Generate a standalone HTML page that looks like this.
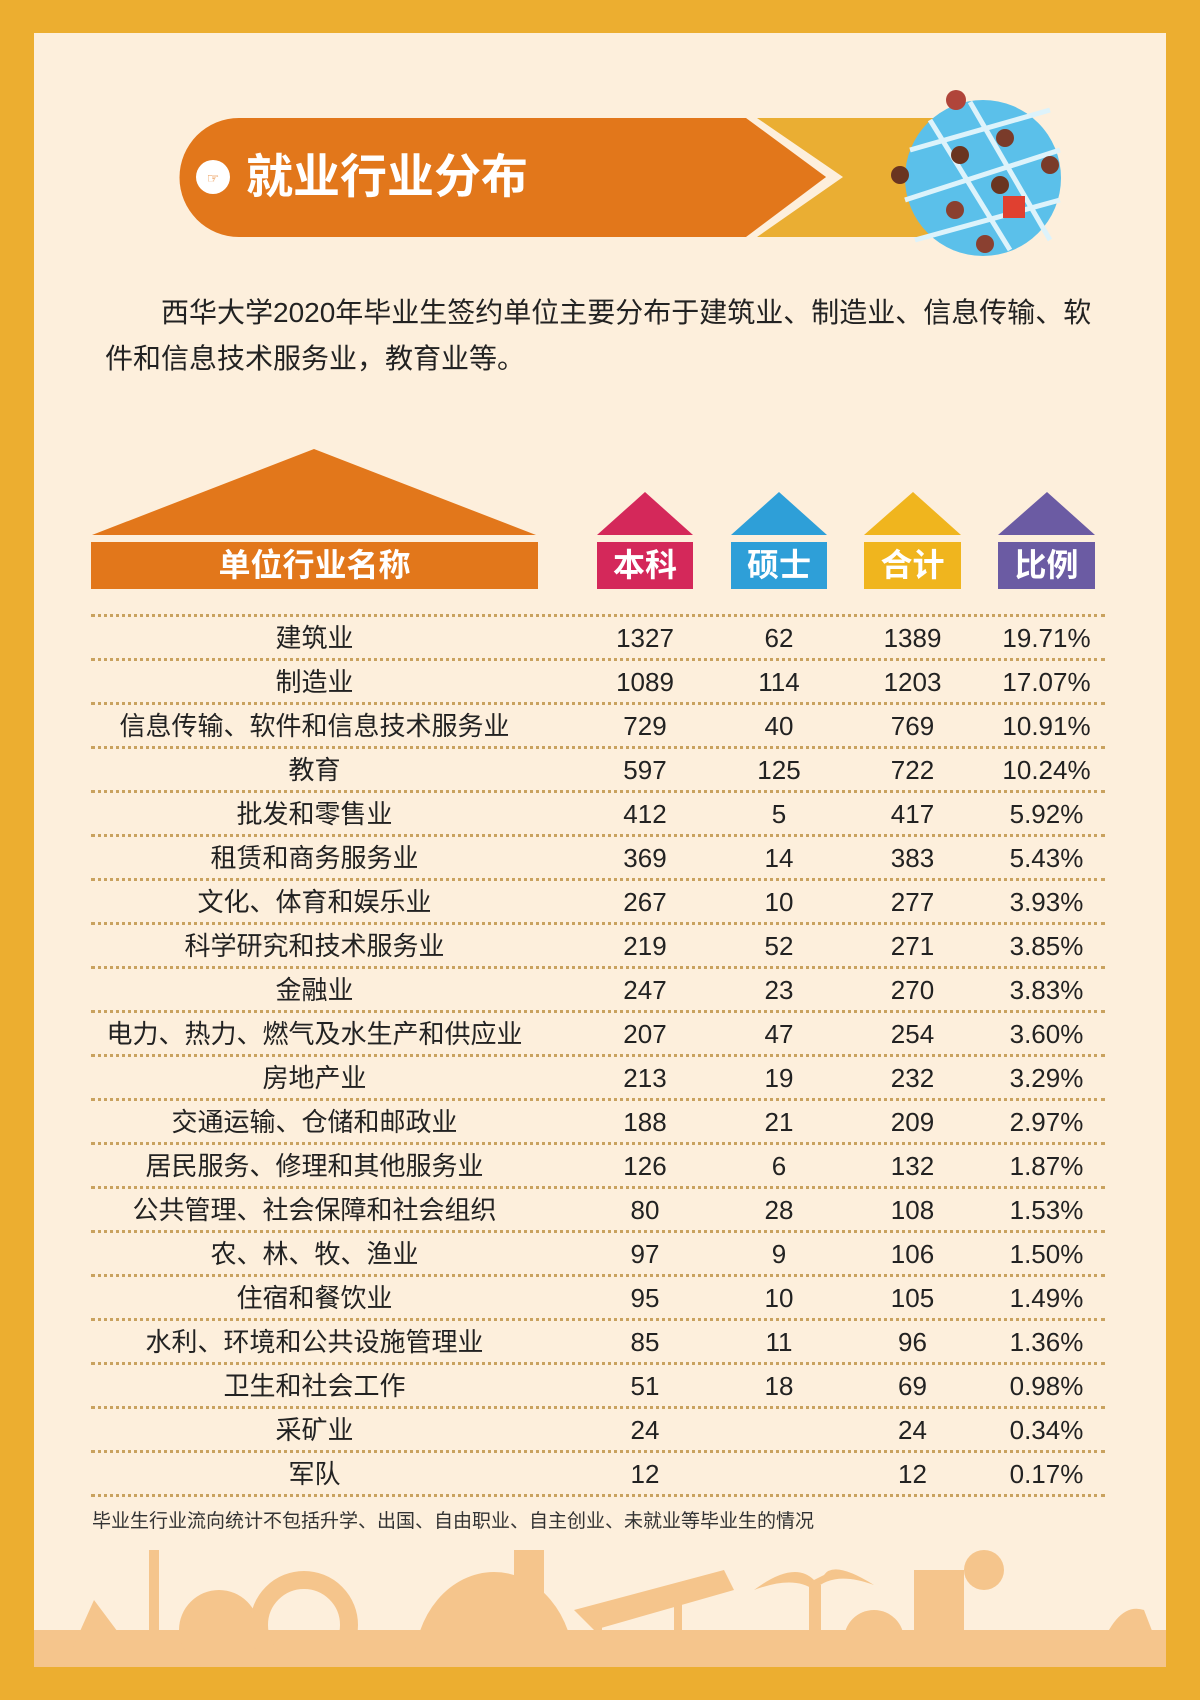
<!DOCTYPE html>
<html><head><meta charset="utf-8">
<style>
*{margin:0;padding:0;box-sizing:border-box}
body{width:1200px;height:1700px;background:#ECAE30;position:relative;overflow:hidden;font-family:"Liberation Sans","Noto Sans CJK SC",sans-serif}
#panel{position:absolute;left:34px;top:33px;width:1132px;height:1634px;background:#FDEFDC}
.abs{position:absolute}
.cell{position:absolute;text-align:center;font-size:26px;color:#222;line-height:44px;height:44px}
.dl{position:absolute;left:91px;width:1014px;height:0;border-top:3px dotted #C9A25F}
.hd{position:absolute;top:542px;height:47px;color:#fff;font-weight:bold;font-size:32px;line-height:47px;text-align:center}
</style></head><body>
<div id="panel"></div>
<svg class="abs" style="left:0;top:0" width="1200" height="700">
  <rect x="700" y="118" width="240" height="119" fill="#EAAE33"/>
  <polygon points="740,118 826,177 740,237 757,237 843,177 757,118" fill="#FDEFDC"/>
  <path d="M239,118 H746 L826,177 L746,237 H239 A59,59 0 0 1 239,118 Z" fill="#E2771B"/>
  <circle cx="213" cy="177" r="17" fill="#fff"/>
  <text x="213" y="183" font-size="14" text-anchor="middle" fill="#E2771B" font-family="Liberation Sans">☞</text>
  <g>
    <circle cx="983" cy="178" r="78" fill="#5BC0EA"/>
    <g stroke="#DDF3FB" stroke-width="5">
      <line x1="910" y1="150" x2="1050" y2="110"/><line x1="905" y1="200" x2="1060" y2="150"/><line x1="915" y1="240" x2="1060" y2="200"/>
      <line x1="930" y1="120" x2="1010" y2="250"/><line x1="970" y1="102" x2="1050" y2="240"/>
    </g>
    <circle cx="956" cy="100" r="10" fill="#B0453A"/><circle cx="1005" cy="138" r="9" fill="#7A3B2A"/><circle cx="960" cy="155" r="9" fill="#6A3520"/>
    <circle cx="1000" cy="185" r="9" fill="#6A3520"/><circle cx="955" cy="210" r="9" fill="#8A4030"/><circle cx="985" cy="244" r="9" fill="#8A4030"/>
    <circle cx="1050" cy="165" r="9" fill="#7A3B2A"/><circle cx="900" cy="175" r="9" fill="#6A3520"/>
    <rect x="1003" y="196" width="22" height="22" fill="#E04030"/>
  </g>
  <polygon points="314,449 536,535 92,535" fill="#E2771B"/>
  <rect x="91" y="542" width="447" height="47" fill="#E2771B"/>
  <polygon points="645,492 693,535 597,535" fill="#D4285A"/>
  <polygon points="779,492 827,535 731,535" fill="#2E9FD8"/>
  <polygon points="913,492 961,535 864,535" fill="#F0B51E"/>
  <polygon points="1047,492 1095,535 998,535" fill="#6B5BA3"/>
  <rect x="597" y="542" width="96" height="47" fill="#D4285A"/>
  <rect x="731" y="542" width="96" height="47" fill="#2E9FD8"/>
  <rect x="864" y="542" width="97" height="47" fill="#F0B51E"/>
  <rect x="998" y="542" width="97" height="47" fill="#6B5BA3"/>
</svg>
<div class="abs" style="left:246px;top:148px;font-size:47px;font-weight:bold;color:#fff;line-height:58px;white-space:nowrap">就业行业分布</div>
<div class="abs" style="left:105px;top:290px;width:1005px;font-size:28px;line-height:46px;color:#222;text-indent:56px">西华大学2020年毕业生签约单位主要分布于建筑业、制造业、信息传输、软<br>件和信息技术服务业，教育业等。</div>
<div class="hd" style="left:91px;width:447px">单位行业名称</div>
<div class="hd" style="left:597px;width:96px">本科</div>
<div class="hd" style="left:731px;width:96px">硕士</div>
<div class="hd" style="left:864px;width:97px">合计</div>
<div class="hd" style="left:998px;width:97px">比例</div>
<div id="tbl"></div>
<div class="abs" style="left:92px;top:1510px;font-size:19px;color:#333;line-height:24px">毕业生行业流向统计不包括升学、出国、自由职业、自主创业、未就业等毕业生的情况</div>
<svg class="abs" style="left:34px;top:1530px" width="1132" height="137">
  <g fill="#F5C58C">
    <rect x="0" y="100" width="1132" height="37"/>
    <path d="M30,137 L60,70 L110,137Z"/><rect x="115" y="20" width="10" height="117"/>
    <circle cx="185" cy="100" r="40"/><circle cx="270" cy="95" r="45" fill="none" stroke="#F5C58C" stroke-width="18"/>
    <path d="M380,137 A80,95 0 0 1 540,137Z"/><rect x="480" y="20" width="30" height="117"/>
    <path d="M540,80 L690,40 L700,60 L560,100Z"/><rect x="560" y="80" width="8" height="57"/><rect x="640" y="60" width="8" height="77"/>
    <path d="M780,50 Q760,30 720,60 Q760,45 780,60 Q800,40 840,55 Q800,30 790,45Z"/><rect x="775" y="55" width="12" height="82"/>
    <circle cx="840" cy="110" r="30"/><rect x="880" y="40" width="50" height="97"/><circle cx="950" cy="40" r="20"/>
    <path d="M1060,137 Q1080,70 1110,80 L1132,137Z"/>
  </g>
</svg>
<script>
const names=["建筑业","制造业","信息传输、软件和信息技术服务业","教育","批发和零售业","租赁和商务服务业","文化、体育和娱乐业","科学研究和技术服务业","金融业","电力、热力、燃气及水生产和供应业","房地产业","交通运输、仓储和邮政业","居民服务、修理和其他服务业","公共管理、社会保障和社会组织","农、林、牧、渔业","住宿和餐饮业","水利、环境和公共设施管理业","卫生和社会工作","采矿业","军队"];
const undergrad=[1327,1089,729,597,412,369,267,219,247,207,213,188,126,80,97,95,85,51,24,12];
const master=[62,114,40,125,5,14,10,52,23,47,19,21,6,28,9,10,11,18,null,null];
const total=[1389,1203,769,722,417,383,277,271,270,254,232,209,132,108,106,105,96,69,24,12];
const ratio=["19.71%","17.07%","10.91%","10.24%","5.92%","5.43%","3.93%","3.85%","3.83%","3.60%","3.29%","2.97%","1.87%","1.53%","1.50%","1.49%","1.36%","0.98%","0.34%","0.17%"];
const tbl=document.getElementById('tbl');
const top0=615,rowH=44;
const cols=[[91,447],[597,96],[731,96],[864,97],[998,97]];
function line(y){const d=document.createElement('div');d.className='dl';d.style.top=y+'px';


tbl.appendChild(d);}
line(top0-1);
names.forEach((n,i)=>{
  const vals=[n,undergrad[i],master[i]==null?'':master[i],total[i],ratio[i]];
  const keys=['industry','undergrad','master','total','ratio'];
  vals.forEach((v,j)=>{
    const c=document.createElement('div');c.className='cell';
    c.style.left=cols[j][0]+'px';c.style.width=cols[j][1]+'px';c.style.top=(top0+i*rowH+1)+'px';
    c.textContent=v;
    
    
    tbl.appendChild(c);
  });
  line(top0+(i+1)*rowH-1);
});
</script>
</body></html>
